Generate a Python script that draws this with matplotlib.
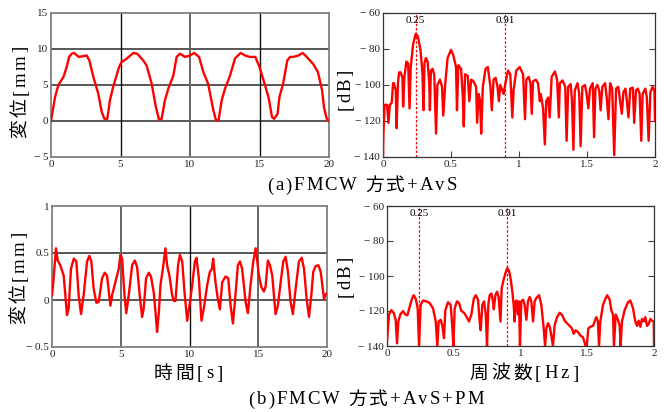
import matplotlib
matplotlib.use("Agg")
import matplotlib.pyplot as plt
from matplotlib.ticker import FuncFormatter

plt.rcParams['font.family'] = ['Liberation Serif', 'Noto Sans CJK JP', 'DejaVu Sans']

# ---------------- data ----------------
# (a) displacement, FMCW + AvS
t_a = [0, 0.29, 0.53, 0.89, 1.13, 1.3, 1.5, 1.65, 2.0, 2.3, 2.57, 2.76, 3.05, 3.4, 3.65, 3.84,
       4.05, 4.24, 4.48, 4.9, 5.08, 5.44, 5.92, 6.2, 6.64, 6.88, 7.24, 7.55, 7.77, 7.96, 8.2,
       8.44, 8.8, 9.04, 9.28, 9.64, 10.0, 10.3, 10.65, 10.96, 11.3, 11.68, 11.87, 12.06, 12.28,
       12.52, 12.88, 13.24, 13.65, 13.96, 14.3, 14.7, 15.0, 15.3, 15.65, 15.9, 16.05, 16.3,
       16.43, 16.7, 17.0, 17.2, 17.43, 17.8, 18.1, 18.4, 18.87, 19.2, 19.5, 19.64, 19.84, 20]
d_a = [0, 3.3, 5.0, 6.1, 7.5, 8.9, 9.35, 9.45, 8.9, 9.0, 9.1, 8.4, 6.1, 3.8, 1.25, 0.3,
       0.3, 2.9, 4.8, 7.5, 8.2, 8.65, 9.45, 9.35, 8.4, 7.7, 5.2, 1.9, 0.2, 0.3, 2.9,
       4.5, 6.3, 8.9, 9.35, 8.9, 9.1, 9.45, 8.9, 6.8, 5.2, 1.5, 0.1, 0.1, 2.9,
       4.5, 6.3, 8.7, 9.45, 9.1, 8.9, 8.9, 7.5, 5.6, 3.3, 0.55, 0.3, 1.0,
       3.3, 5.2, 8.4, 8.9, 8.9, 9.1, 9.45, 8.9, 7.9, 6.8, 4.3, 1.9, 0.3, 0]

# (b) displacement, FMCW + AvS + PM
t_b = [0, 0.12, 0.29, 0.41, 0.6, 0.85, 1.09, 1.21, 1.38, 1.58, 1.77, 1.94, 2.11, 2.3, 2.55,
       2.72, 2.86, 3.03, 3.23, 3.4, 3.64, 3.83, 4.0, 4.25, 4.37, 4.61, 4.85, 4.98, 5.1, 5.27,
       5.4, 5.58, 5.83, 6.02, 6.19, 6.38, 6.55, 6.67, 6.84, 7.04, 7.2, 7.4, 7.57, 7.64, 7.77,
       7.89, 8.08, 8.25, 8.37, 8.54, 8.74, 8.86, 8.98, 9.17, 9.3, 9.47, 9.64, 9.83, 10.0,
       10.2, 10.39, 10.51, 10.68, 10.87, 11.04, 11.29, 11.48, 11.63, 11.72, 11.89, 12.06,
       12.21, 12.38, 12.62, 12.82, 12.99, 13.16, 13.3, 13.52, 13.67, 13.83, 14.08, 14.25,
       14.44, 14.64, 14.81, 14.93, 15.05, 15.22, 15.41, 15.53, 15.7, 15.85, 16.02, 16.14,
       16.26, 16.43, 16.63, 16.82, 16.99, 17.16, 17.35, 17.52, 17.72, 17.96, 18.16, 18.33,
       18.52, 18.69, 18.86, 19.0, 19.17, 19.37, 19.54, 19.66, 19.78, 19.9, 20]
d_b = [0.05, 0.23, 0.55, 0.42, 0.37, 0.26, -0.16, -0.09, 0.33, 0.44, 0.41, 0.05, -0.15, 0.05, 0.41,
       0.47, 0.41, 0.12, -0.03, -0.02, 0.23, 0.29, 0.26, -0.06, 0.05, 0.19, 0.33, 0.48, 0.44, 0.05,
       -0.14, 0.05, 0.37, 0.42, 0.35, 0.05, -0.18, -0.09, 0.23, 0.29, 0.25, 0.08, -0.2, -0.34, -0.13,
       0.16, 0.35, 0.55, 0.37, 0.26, 0.05, -0.01, -0.01, 0.37, 0.48, 0.41, 0.08, -0.22, -0.06,
       0.16, 0.41, 0.45, 0.23, -0.22, -0.09, 0.16, 0.3, 0.33, 0.44, 0.19, 0.01,
       -0.1, 0.19, 0.25, 0.23, -0.06, -0.25, -0.02, 0.37, 0.41, 0.33, -0.02, -0.14,
       0.16, 0.41, 0.55, 0.41, 0.26, 0.14, 0.09, 0.14, 0.42, 0.37, 0.26, 0.05,
       -0.15, -0.06, 0.19, 0.41, 0.46, 0.3, -0.02, -0.15, 0.12, 0.41, 0.45, 0.33,
       0.01, -0.18, 0.05, 0.3, 0.36, 0.37, 0.3, 0.16, 0.01, 0.06, 0.07]

# (a) spectrum
f_a = [0, 0.003, 0.012, 0.03, 0.04, 0.05, 0.064, 0.074, 0.08, 0.094, 0.1, 0.11, 0.118, 0.13,
       0.143, 0.148, 0.158, 0.172, 0.185, 0.195, 0.204, 0.222, 0.241, 0.256, 0.276, 0.29, 0.298,
       0.305, 0.315, 0.328, 0.34, 0.345, 0.352, 0.365, 0.377, 0.39, 0.4, 0.419, 0.434, 0.443,
       0.458, 0.475, 0.5, 0.517, 0.537, 0.544, 0.554, 0.574, 0.586, 0.594, 0.603, 0.623, 0.635,
       0.648, 0.665, 0.685, 0.692, 0.704, 0.714, 0.722, 0.734, 0.754, 0.771, 0.79, 0.8, 0.813,
       0.828, 0.842, 0.852, 0.862, 0.877, 0.887, 0.9, 0.919, 0.936, 0.951, 0.96, 0.98, 1.005,
       1.03, 1.044, 1.054, 1.071, 1.084, 1.094, 1.103, 1.123, 1.14, 1.153, 1.16, 1.177, 1.19,
       1.2, 1.214, 1.226, 1.24, 1.264, 1.28, 1.293, 1.3, 1.32, 1.34, 1.35, 1.362, 1.38, 1.39,
       1.4, 1.41, 1.43, 1.443, 1.453, 1.466, 1.485, 1.497, 1.51, 1.522, 1.542, 1.552, 1.562,
       1.576, 1.59, 1.6, 1.613, 1.633, 1.645, 1.658, 1.67, 1.685, 1.7, 1.714, 1.73, 1.744,
       1.756, 1.768, 1.783, 1.793, 1.805, 1.818, 1.837, 1.847, 1.86, 1.874, 1.887, 1.899,
       1.909, 1.929, 1.94, 1.953, 1.966, 1.983, 1.996, 2.0]
p_a = [-140, -127, -111, -111, -121, -111, -110, -99, -99, -103, -124, -99, -93, -93,
       -96, -112, -95, -87, -88, -113, -90, -77, -71.5, -73, -80.5, -93.5, -114,
       -88, -85, -87, -99, -114, -92, -91, -94.5, -127, -100, -97, -101, -117,
       -99, -85, -80.5, -83.5, -90, -114, -89, -91, -105, -123, -94, -95, -109,
       -97, -98, -101, -121, -105, -109, -127, -101, -91, -90, -101, -114, -97,
       -96, -101, -109, -100, -103, -105, -99, -92, -94, -118, -103, -92, -90,
       -94, -119, -97, -95.5, -99, -116, -98, -97, -99, -109, -105, -113, -133,
       -109, -107, -118, -95.5, -92.5, -97, -118, -99, -97.5, -101, -131, -101, -99.5, -109,
       -136, -103, -99, -105, -134, -101, -100, -105, -113, -102, -99, -129, -102,
       -100, -103, -114, -101, -99, -107, -119, -99, -102, -139, -102, -101, -109,
       -116, -104, -102, -109, -118, -102, -101.5, -121, -103, -102, -105, -131,
       -105, -102, -107, -131, -104, -101, -103, -120]

# (b) spectrum
f_b = [0, 0.015, 0.032, 0.05, 0.065, 0.075, 0.085, 0.1, 0.12, 0.137, 0.152, 0.17, 0.187, 0.2,
       0.215, 0.23, 0.24, 0.252, 0.27, 0.295, 0.32, 0.345, 0.365, 0.377, 0.387, 0.402, 0.415,
       0.427, 0.437, 0.457, 0.477, 0.49, 0.497, 0.507, 0.524, 0.54, 0.557, 0.577, 0.594, 0.614,
       0.632, 0.65, 0.665, 0.682, 0.694, 0.702, 0.714, 0.727, 0.74, 0.749, 0.759, 0.769, 0.782,
       0.794, 0.8, 0.812, 0.824, 0.836, 0.85, 0.859, 0.874, 0.889, 0.901, 0.914, 0.926, 0.939,
       0.949, 0.956, 0.964, 0.971, 0.981, 0.989, 0.996, 1.006, 1.019, 1.031, 1.044, 1.056,
       1.069, 1.081, 1.094, 1.106, 1.119, 1.139, 1.156, 1.174, 1.184, 1.194, 1.206, 1.219,
       1.231, 1.243, 1.256, 1.274, 1.294, 1.313, 1.331, 1.348, 1.368, 1.386, 1.398, 1.413,
       1.43, 1.448, 1.468, 1.488, 1.498, 1.508, 1.523, 1.543, 1.558, 1.568, 1.58, 1.588,
       1.598, 1.618, 1.636, 1.65, 1.668, 1.68, 1.693, 1.7, 1.713, 1.73, 1.743, 1.75, 1.76,
       1.78, 1.805, 1.823, 1.843, 1.86, 1.873, 1.885, 1.898, 1.91, 1.923, 1.935, 1.948,
       1.96, 1.973, 1.985, 1.998, 2.0]
p_b = [-137.5, -122, -119.5, -121, -125, -138.5, -126, -122, -120, -122, -122.5, -117.5, -113, -111,
       -113, -118.5, -140, -116.5, -114, -114.5, -115.5, -118.5, -126, -140, -126, -125, -128.5,
       -135.5, -119.5, -115, -116.5, -130, -140, -118.5, -114.5, -115.5, -120, -121, -123, -126,
       -122, -113, -111, -113.5, -126, -131, -116.5, -114.5, -122, -140, -116.5, -111, -110,
       -114.5, -119, -111, -109, -112, -126, -107, -102, -98, -95.5, -97, -101.5, -109,
       -116.5, -126, -114.5, -114, -122, -114.5, -140, -114.5, -113.5, -116.5, -125, -114.5,
       -112, -114.5, -126, -114.5, -112.5, -111, -116.5, -130, -140, -130, -127, -129,
       -134, -140, -128, -123.5, -121, -122.5, -125.5, -127, -128.5, -130, -133, -131,
       -132, -134, -135, -140, -138.5, -130, -129, -128.5, -125.5, -123.5, -126, -140,
       -126, -116.5, -113, -111, -113.5, -119.5, -122, -140, -122, -125, -128.5, -140, -126,
       -119.5, -115, -114, -118.5, -126, -128.5, -125.5, -129, -124.5, -126, -123.5, -128.5,
       -127.5, -124.5, -125.5, -126, -140]

marker_pos = [0.24, 0.90]
marker_labels = ["0.25", "0.91"]

time_ticks = [0, 5, 10, 15, 20]
freq_ticks = [0, 0.5, 1, 1.5, 2]
db_ticks = [-60, -80, -100, -120, -140]

caption_a = "(a)FMCW 方式+AvS"
caption_b = "(b)FMCW 方式+AvS+PM"
xlabel_t = "時間[s]"
xlabel_f = "周波数[Hz]"
ylabel_d = "変位[mm]"
ylabel_p = "[dB]"

# ---------------- figure ----------------
W, H = 672, 412
fig = plt.figure(figsize=(W / 100, H / 100), dpi=100)
renderer = fig.canvas.get_renderer()

def ax_at(x0, y0, x1, y1):
    return fig.add_axes([x0 / W, 1 - y1 / H, (x1 - x0) / W, (y1 - y0) / H])

def tracked_h(s, cx, cy, size, track):
    items = []
    for ch in s:
        t = fig.text(0, 0, ch, fontsize=size, ha='left', va='center')
        w = t.get_window_extent(renderer).width
        items.append((t, w))
    total = sum(w for _, w in items) + track * (len(items) - 1)
    x = cx - total / 2
    for t, w in items:
        t.set_position((x / W, 1 - cy / H))
        x += w + track

def tracked_v(s, cx, cy, size, track):
    items = []
    for ch in s:
        t = fig.text(0, 0, ch, fontsize=size, ha='center', va='bottom', rotation=90)
        h = t.get_window_extent(renderer).height
        items.append((t, h))
    total = sum(h for _, h in items) + track * (len(items) - 1)
    y = cy + total / 2
    for t, h in items:
        t.set_position((cx / W, 1 - y / H))
        y -= h + track

def fmt(v, pos):
    s = ('%g' % v)
    if s.startswith('-'):
        s = '\u2212 ' + s[1:]
    return s

RED = '#ff0000'
TICKFS = 8

def time_axes(ax, t, d, ylim, yticks, vcolors):
    ax.plot(t, d, color=RED, lw=1.7, zorder=3)
    ax.set_xlim(0, 20)
    ax.set_ylim(*ylim)
    ax.set_xticks(time_ticks)
    ax.set_yticks(yticks)
    ax.xaxis.set_major_formatter(FuncFormatter(fmt))
    ax.yaxis.set_major_formatter(FuncFormatter(fmt))
    ax.tick_params(length=0, labelsize=TICKFS, pad=2, labelcolor='#222222')
    for v in yticks[1:-1]:
        ax.axhline(v, color='#4a4a4a', lw=1.3, zorder=1)
    for v, c in zip(time_ticks[1:-1], vcolors):
        if c == 'k':
            ax.axvline(v, color='#111111', lw=1.0, zorder=1)
        else:
            ax.axvline(v, color='#666666', lw=1.4, zorder=1)
    for s in ax.spines.values():
        s.set_color('#777777')
        s.set_linewidth(1.2)

def spec_axes(ax, f, p):
    ax.plot(f, p, color=RED, lw=1.7, zorder=3)
    ax.set_xlim(0, 2)
    ax.set_ylim(-140, -60)
    ax.set_xticks(freq_ticks)
    ax.set_yticks(db_ticks)
    ax.xaxis.set_major_formatter(FuncFormatter(fmt))
    ax.yaxis.set_major_formatter(FuncFormatter(fmt))
    ax.tick_params(direction='in', length=4, width=0.8, color='#444444',
                   labelsize=TICKFS, pad=2, right=True, labelcolor='#222222')
    for m, lab in zip(marker_pos, marker_labels):
        ax.axvline(m, color=RED, lw=0.9, ls=(0, (2, 1.5)), zorder=2)
        ax.text(m, -61.5, lab, ha='center', va='top', fontsize=TICKFS, zorder=4)
    for s in ax.spines.values():
        s.set_color('#333333')
        s.set_linewidth(0.9)

ax1 = ax_at(51, 13, 329, 157)
time_axes(ax1, t_a, d_a, (-5, 15), [-5, 0, 5, 10, 15], ['k', 'g', 'k'])

ax2 = ax_at(383, 13, 655, 157)
spec_axes(ax2, f_a, p_a)

ax3 = ax_at(52, 206, 327, 347)
time_axes(ax3, t_b, d_b, (-0.5, 1), [-0.5, 0, 0.5, 1], ['g', 'k', 'g'])

ax4 = ax_at(387, 206, 654, 346)
spec_axes(ax4, f_b, p_b)

LBL = 13.5
tracked_v(ylabel_d, 21, 92, LBL, 2.5)
tracked_v(ylabel_d, 20, 278, LBL, 2.5)
tracked_v(ylabel_p, 346, 90, LBL, 2.0)
tracked_v(ylabel_p, 346, 277, LBL, 2.0)
tracked_h(xlabel_t, 188, 374, LBL, 3.0)
tracked_h(xlabel_f, 524, 374, LBL, 3.0)
tracked_h(caption_a, 362, 186, LBL, 2.0)
tracked_h(caption_b, 366, 400, LBL, 2.0)

fig.savefig('out.png', dpi=100)
